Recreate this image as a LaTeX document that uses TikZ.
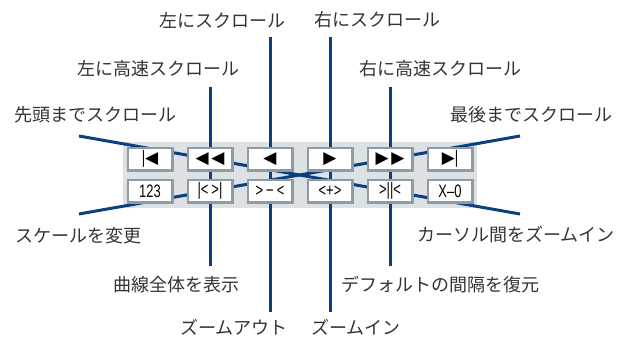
\documentclass[tikz,border=0pt]{standalone}
\usepackage{fontspec}
\newfontfamily\jp{Noto Sans CJK JP}
\newfontfamily\btnf[FakeStretch=0.72]{Liberation Sans}
\newfontfamily\symf{DejaVu Sans}
\definecolor{lineblue}{HTML}{0B3F7E}
\definecolor{panelgray}{HTML}{DCE1E5}
\definecolor{boxborder}{HTML}{8D9BA3}
\definecolor{labelgray}{HTML}{333333}
\pgfdeclarelayer{panel}
\pgfdeclarelayer{lines}
\pgfsetlayers{panel,lines,main}
\newcommand{\tri}[1]{{\symf\fontsize{17}{18}\selectfont #1}}
\begin{document}
\begin{tikzpicture}[x=1pt,y=-1pt,
  lbl/.style={font=\jp\fontsize{18}{20}\selectfont, text=labelgray, inner sep=0pt},
  btnbox/.style={draw=boxborder, line width=2.4pt, fill=white, minimum width=44.6pt,
    minimum height=22.6pt, inner sep=0pt, font=\btnf\fontsize{18}{19}\selectfont, text=black},
  conn/.style={draw=lineblue, line width=3pt}]
\useasboundingbox (0,0) rectangle (624,337);

% labels
\node[lbl] (lScrL)  at (222,20)  {左にスクロール};
\node[lbl] (lScrR)  at (377,20)  {右にスクロール};
\node[lbl] (lFastL) at (158,69)  {左に高速スクロール};
\node[lbl] (lFastR) at (440,69)  {右に高速スクロール};
\node[lbl] (lHome)  at (95,115)  {先頭までスクロール};
\node[lbl] (lEnd)   at (531,115) {最後までスクロール};
\node[lbl] (lScale) at (78,236)  {スケールを変更};
\node[lbl] (lCur)   at (516,235) {カーソル間をズームイン};
\node[lbl] (lAll)   at (176,285) {曲線全体を表示};
\node[lbl] (lDef)   at (440,285) {デフォルトの間隔を復元};
\node[lbl] (lOut)   at (234,327) {ズームアウト};
\node[lbl] (lIn)    at (356,327) {ズームイン};

% buttons
\node[btnbox] (b1)  at (150,159) {|\tri{◀}};
\node[btnbox] (b2)  at (210,159) {\tri{◀\,◀}};
\node[btnbox] (b3)  at (270,159) {\tri{◀}};
\node[btnbox] (b4)  at (330,159) {\tri{▶}};
\node[btnbox] (b5)  at (390,159) {\tri{▶\,▶}};
\node[btnbox] (b6)  at (450,159) {\tri{▶}|};
\node[btnbox] (b7)  at (150,191) {123};
\node[btnbox] (b8)  at (210,191) {|<\,>|};
\node[btnbox] (b9)  at (270,191) {>\,−\,<};
\node[btnbox] (b10) at (330,191) {<+>};
\node[btnbox] (b11) at (390,191) {>||<};
\node[btnbox] (b12) at (450,191) {X–0};

% connector ends
\coordinate (eHome)  at (79,136);
\coordinate (eCur)   at (520,214);
\coordinate (eScale) at (79,214);
\coordinate (eEnd)   at (520,136);
\coordinate (eFastL) at (210,87);
\coordinate (eAll)   at (210,266);
\coordinate (eScrL)  at (270,37);
\coordinate (eOut)   at (270,312);
\coordinate (eScrR)  at (330,37);
\coordinate (eIn)    at (330,312);
\coordinate (eFastR) at (390,87);
\coordinate (eDef)   at (390,266);

\begin{pgfonlayer}{panel}
  \fill[panelgray] (123,142) rectangle (477,208);
\end{pgfonlayer}
\begin{pgfonlayer}{lines}
  \draw[conn] (eHome) -- (eCur);
  \draw[conn] (eScale) -- (eEnd);
  \draw[conn] (eFastL) -- (eAll);
  \draw[conn] (eScrL) -- (eOut);
  \draw[conn] (eScrR) -- (eIn);
  \draw[conn] (eFastR) -- (eDef);
\end{pgfonlayer}
\end{tikzpicture}
\end{document}
